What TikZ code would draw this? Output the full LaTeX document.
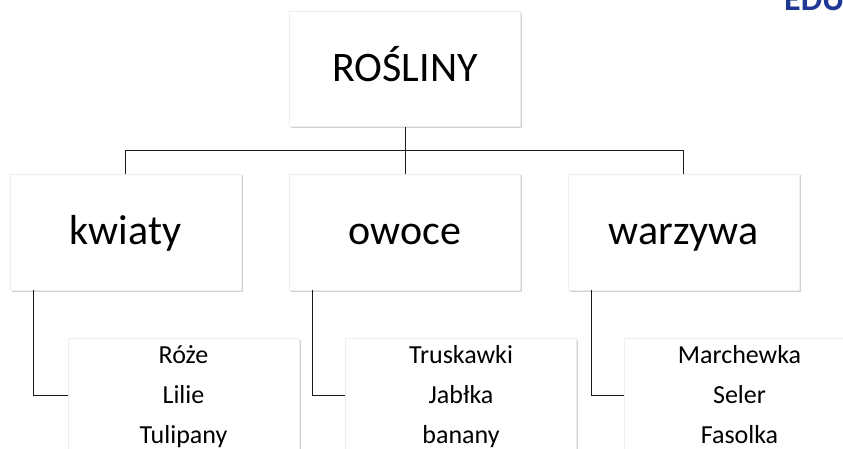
\documentclass[tikz,border=0pt]{standalone}
\usepackage{fontspec}
\setmainfont{Carlito}
\usepackage{xcolor}
\usepackage{tikz}
\usetikzlibrary{positioning,shadows,calc}
\definecolor{edublue}{RGB}{31,56,148}

\begin{document}
\begin{tikzpicture}[
    x=1pt, y=-1pt,
    box/.style={draw=black!7, line width=0.5pt, fill=white, inner sep=0pt,
        minimum width=231pt,
        drop shadow={shadow xshift=1.5pt, shadow yshift=-1.5pt, fill=black!30, opacity=.6}},
    bigbox/.style={box, minimum height=116pt, text height=25pt, text depth=0pt,
        font=\fontsize{42}{50}\selectfont},
    listbox/.style={box, minimum height=132pt, anchor=north west},
    listtext/.style={anchor=north, inner sep=0pt, align=center,
        font=\fontsize{26}{40}\selectfont},
    link/.style={draw=black!90, line width=1pt},
]
\useasboundingbox (0,0) rectangle (843,449);

% Logo (cut off at the top edge)
\node[anchor=base west, inner sep=0pt, text=edublue,
    font=\bfseries\fontsize{34}{34}\selectfont] (logo) at (784,11) {EDU};

% Second level
\node[bigbox] (kwiaty) at (125.5,232) {kwiaty};
\node[bigbox, right=48pt of kwiaty] (owoce) {owoce};
\node[bigbox, right=47pt of owoce] (warzywa) {warzywa};

% Root
\node[bigbox, above=47pt of owoce, minimum height=115pt] (rosliny) {ROŚLINY};

% Lists
\node[listbox] (kwiatyli) at ([xshift=58pt,yshift=-48pt]kwiaty.south west) {};
\node[listbox] (owoceli) at ([xshift=56pt,yshift=-48pt]owoce.south west) {};
\node[listbox] (warzywali) at ([xshift=56pt,yshift=-48pt]warzywa.south west) {};
\node[listtext] (kwiatytxt) at ([yshift=3pt]kwiatyli.north) {\strut Róże\\Lilie\\Tulipany};
\node[listtext] (owocetxt) at ([yshift=3pt]owoceli.north) {\strut Truskawki\\Jabłka\\banany};
\node[listtext] (warzywatxt) at ([yshift=3pt]warzywali.north) {\strut Marchewka\\Seler\\Fasolka};

% Connectors
\coordinate (bus) at ($(rosliny.south)!0.5!(owoce.north)$);
\draw[link] (rosliny.south) -- (owoce.north);
\draw[link] (kwiaty.north) |- (bus) -| (warzywa.north);
\draw[link] ([xshift=24pt]kwiaty.south west) |- ([yshift=-57pt]kwiatyli.north west);
\draw[link] ([xshift=23.5pt]owoce.south west) |- ([yshift=-57pt]owoceli.north west);
\draw[link] ([xshift=23.5pt]warzywa.south west) |- ([yshift=-57pt]warzywali.north west);

\end{tikzpicture}
\end{document}
